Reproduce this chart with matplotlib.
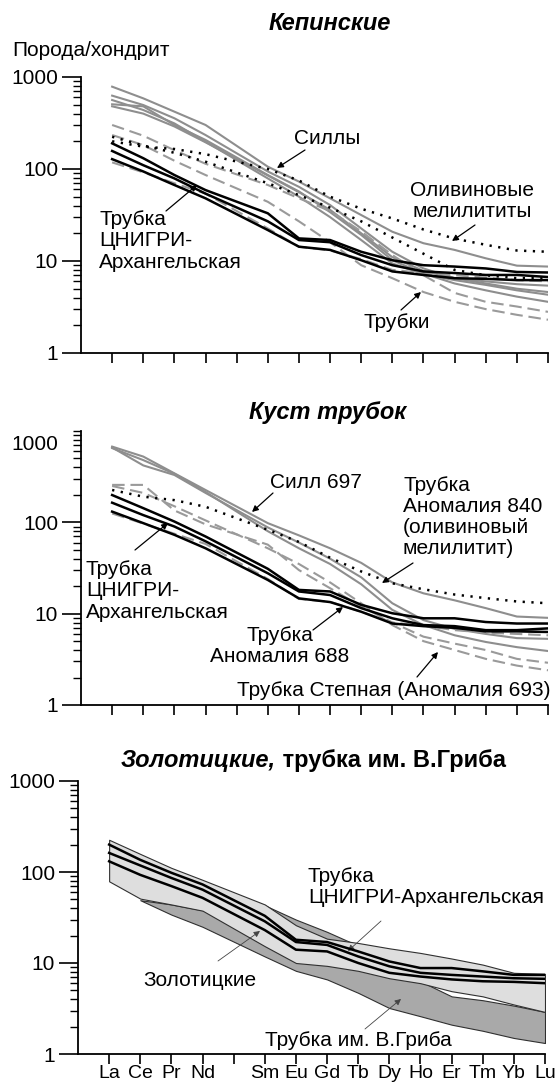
import matplotlib
matplotlib.use("Agg")
import matplotlib.pyplot as plt
import matplotlib.transforms as mtransforms
from matplotlib.ticker import NullFormatter, FixedLocator
import numpy as np

plt.rcParams['font.family'] = ['Liberation Sans', 'DejaVu Sans']

# ---------------- data ----------------
elements = ['La', 'Ce', 'Pr', 'Nd', 'Pm', 'Sm', 'Eu', 'Gd', 'Tb', 'Dy', 'Ho', 'Er', 'Tm', 'Yb', 'Lu']
tick_labels = ['La', 'Ce', 'Pr', 'Nd', '', 'Sm', 'Eu', 'Gd', 'Tb', 'Dy', 'Ho', 'Er', 'Tm', 'Yb', 'Lu']
measured = ['La', 'Ce', 'Pr', 'Nd', 'Sm', 'Eu', 'Gd', 'Tb', 'Dy', 'Ho', 'Er', 'Tm', 'Yb', 'Lu']
griba_elements = ['Ce', 'Pr', 'Nd', 'Sm', 'Eu', 'Gd', 'Tb', 'Dy', 'Ho', 'Er', 'Tm', 'Yb', 'Lu']

# Panel 1: Кепинские
kep_sill_1 = [785, 586, 420, 301, 106, 73, 48, 31.6, 20.8, 15.6, 13.2, 10.7, 8.9, 8.7]
kep_sill_2 = [627, 496, 356, 234, 94, 64, 40.6, 22.6, 12.6, 8.3, 6.5, 5.7, 5.0, 4.6]
kep_sill_3 = [505, 480, 301, 207, 86, 57, 34, 19.2, 10.2, 7.3, 5.7, 4.8, 4.1, 3.6]
kep_sill_4 = [562, 438, 313, 198, 79, 50, 30, 16.9, 9.4, 7.2, 6.2, 5.5, 4.8, 4.3]
kep_sill_5 = [480, 400, 290, 195, 85, 56, 36, 20, 11, 7.8, 6.5, 6.0, 5.6, 5.4]
kep_pipe_1 = [301, 230, 160, 114, 67, 48, 35, 21, 11.6, 7.0, 4.5, 3.6, 3.2, 2.8]
kep_pipe_2 = [234, 182, 123, 86, 44, 27, 16, 9.0, 6.5, 4.6, 3.6, 3.0, 2.6, 2.3]
kep_pipe_3 = [118, 92, 70, 54, 22.6, 14.3, 13, 10.5, 8.0, 7.4, 7.0, 6.6, 6.2, 6.0]
kep_mel_1 = [200, 175, 165, 145, 100, 75, 50, 37, 29, 22, 17.5, 15, 13, 12.6]
kep_mel_2 = [224, 180, 150, 120, 70, 52, 38, 27, 18, 12, 8.0, 7.0, 6.5, 6.5]
kep_cnigri_1 = [190, 131, 86, 59, 33, 17.6, 16.9, 12.6, 10.2, 9.0, 8.7, 8.3, 7.6, 7.5]
kep_cnigri_2 = [157, 110, 79, 54, 27, 16.9, 16, 11.6, 9.0, 7.7, 7.4, 7.05, 7.05, 6.7]
kep_cnigri_3 = [128, 94, 67, 48, 21.7, 14.3, 13.2, 10.2, 7.7, 7.05, 6.5, 6.4, 6.2, 6.2]

# Panel 2: Куст трубок
kust_sill_1 = [675, 525, 344, 226, 98, 72, 52, 36, 22, 16.7, 14, 11.5, 9.3, 9.0]
kust_sill_2 = [660, 420, 330, 210, 88, 60, 40, 25, 13, 8.5, 6.8, 6.0, 5.4, 5.3]
kust_sill_3 = [650, 480, 340, 215, 80, 52, 35, 21, 11, 7.5, 5.8, 4.9, 4.3, 3.9]
kust_mel = [226, 191, 175, 148, 83, 61, 41, 29, 21.5, 18.5, 16.2, 14.8, 13.6, 13]
kust_pipe_1 = [257, 257, 135, 95, 57, 30, 19, 12, 8.0, 5.6, 4.7, 4.0, 3.2, 2.9]
kust_pipe_2 = [250, 210, 150, 105, 52, 35, 22, 13, 7.5, 5.0, 4.0, 3.2, 2.7, 2.4]
kust_pipe_3 = [125, 97, 75, 58, 24, 14.5, 13.5, 10.5, 8.0, 7.4, 6.6, 6.2, 6.0, 5.8]
kust_cnigri_1 = [199, 143, 102, 70, 31, 18.2, 17.5, 12.5, 10.1, 8.9, 8.9, 8.1, 7.8, 7.8]
kust_cnigri_2 = [164, 120, 90, 62, 27.7, 17.5, 16, 11.5, 8.9, 7.5, 7.3, 6.6, 6.6, 6.9]
kust_cnigri_3 = [131, 98, 73, 52, 23.4, 14.7, 13.4, 10.5, 7.8, 7.3, 7.0, 6.4, 6.4, 6.3]

# Panel 3: Золотицкие, трубка им. В.Гриба
zol_upper = [226, 158, 111, 82, 44, 26, 18.5, 16.6, 14.5, 12.9, 11.2, 9.6, 7.8, 7.6]
zol_lower = [79, 51, 44, 37.6, 15.3, 10, 9.3, 8.2, 6.8, 6.0, 4.9, 4.3, 3.5, 2.9]
griba_upper = [49, 44, 38, 43, 30, 22, 15.5, 9.5, 6.3, 4.3, 3.9, 3.4, 2.9]
griba_lower = [49, 34, 25, 11.8, 8.2, 6.6, 4.7, 3.2, 2.6, 2.1, 1.8, 1.5, 1.32]
zol_cnigri_1 = [200, 136, 98, 73, 33, 18, 17, 13.4, 10.4, 8.8, 8.8, 8.1, 7.4, 7.4]
zol_cnigri_2 = [162, 118, 86, 64, 28.7, 17, 15.8, 11.8, 9.2, 7.8, 7.4, 7.1, 6.8, 6.7]
zol_cnigri_3 = [131, 93, 70, 52, 23, 14, 13.4, 10, 7.8, 7.1, 6.6, 6.3, 6.2, 6.0]

# ---------------- figure ----------------
W, H = 558, 1088
fig = plt.figure(figsize=(W / 100, H / 100), dpi=100)
T = mtransforms.Affine2D().scale(1 / W, -1 / H).translate(0, 1) + fig.transFigure

FS = 15
TFS = 17
GRAY = '#8e8e8e'
DGRAY = '#9a9a9a'


def make_axes(left, top, right, bottom, show_labels=False, shift_1000=False):
    ax = fig.add_axes([left / W, 1 - bottom / H, (right - left) / W, (bottom - top) / H])
    ax.set_yscale('log')
    ax.set_ylim(1, 1000)
    ax.set_xlim(0, len(elements))
    for s in ('top', 'right'):
        ax.spines[s].set_visible(False)
    for s in ('left', 'bottom'):
        ax.spines[s].set_linewidth(1.3)
    ax.set_xticks(np.arange(1, len(elements) + 1))
    ax.set_xticklabels(tick_labels if show_labels else [''] * len(elements), fontsize=14)
    ax.tick_params(axis='x', direction='out', length=7, width=1.2, pad=1.2)
    if shift_1000:
        ax.set_yticks([1, 10, 100])
        ax.set_yticklabels(['1', '10', '100'])
        minor = [m * 10 ** e for e in range(0, 3) for m in range(2, 10)] + [1000]
    else:
        ax.set_yticks([1, 10, 100, 1000])
        ax.set_yticklabels(['1', '10', '100', '1000'])
        minor = [m * 10 ** e for e in range(0, 3) for m in range(2, 10)]
    ax.yaxis.set_minor_locator(FixedLocator(minor))
    ax.yaxis.set_minor_formatter(NullFormatter())
    ax.tick_params(axis='y', which='major', direction='out', length=13.5, width=1.2, pad=3, labelsize=FS)
    ax.tick_params(axis='y', which='minor', direction='out', length=6, width=1.0)
    return ax


xm = [elements.index(e) + 1 for e in measured]
xg = [elements.index(e) + 1 for e in griba_elements]


def solid_gray(ax, v):
    ax.plot(xm, v, color=GRAY, lw=1.5, solid_joinstyle='round', zorder=2)


def dashed_gray(ax, v):
    ax.plot(xm, v, color=DGRAY, lw=1.5, linestyle=(0, (6, 2.8)), zorder=2)


def dotted_black(ax, v):
    ax.plot(xm, v, color='black', lw=1.8, linestyle=(0, (0.9, 2.6)), zorder=3)


def black(ax, v):
    ax.plot(xm, v, color='black', lw=1.8, solid_joinstyle='round', zorder=4)


def label(x, y, s, ha='center', size=FS, **kw):
    fig.text(x / W, 1 - y / H, s, ha=ha, va='center', fontsize=size, linespacing=1.15, **kw)


def arrow(ax, x0, y0, x1, y1, lw=0.9, color='black'):
    ax.annotate('', xy=(x1, y1), xytext=(x0, y0), xycoords=T, textcoords=T,
                annotation_clip=False,
                arrowprops=dict(arrowstyle='-|>', color=color, lw=lw, mutation_scale=9,
                                shrinkA=0, shrinkB=0))


# ---------------- panel 1 ----------------
ax1 = make_axes(81, 77, 548, 353)
for v in (kep_sill_1, kep_sill_2, kep_sill_3, kep_sill_4, kep_sill_5):
    solid_gray(ax1, v)
for v in (kep_pipe_1, kep_pipe_2, kep_pipe_3):
    dashed_gray(ax1, v)
for v in (kep_mel_1, kep_mel_2):
    dotted_black(ax1, v)
for v in (kep_cnigri_1, kep_cnigri_2, kep_cnigri_3):
    black(ax1, v)

label(330, 24, 'Кепинские', size=TFS, fontweight='bold', fontstyle='italic')
label(12, 51, 'Порода/хондрит', ha='left')
label(327, 139, 'Силлы')
label(472, 201, 'Оливиновые\nмелилититы', multialignment='center')
label(397, 322, 'Трубки')
label(99, 241, 'Трубка\nЦНИГРИ-\nАрхангельская', ha='left', multialignment='left')
arrow(ax1, 305, 150, 277, 168)
arrow(ax1, 475, 225, 452, 241)
arrow(ax1, 401, 310, 421, 292)
arrow(ax1, 166, 211, 197, 185)

# ---------------- panel 2 ----------------
ax2 = make_axes(81, 431, 548, 705, shift_1000=True)
for v in (kust_sill_1, kust_sill_2, kust_sill_3):
    solid_gray(ax2, v)
for v in (kust_pipe_1, kust_pipe_2, kust_pipe_3):
    dashed_gray(ax2, v)
dotted_black(ax2, kust_mel)
for v in (kust_cnigri_1, kust_cnigri_2, kust_cnigri_3):
    black(ax2, v)

label(58, 445, '1000', ha='right')
label(328, 412, 'Куст трубок', size=TFS, fontweight='bold', fontstyle='italic')
label(316, 482, 'Силл 697')
label(403, 517, 'Трубка\nАномалия 840\n(оливиновый\nмелилитит)', ha='left', multialignment='left')
label(86, 591, 'Трубка\nЦНИГРИ-\nАрхангельская', ha='left', multialignment='left')
label(280, 646, 'Трубка\nАномалия 688', multialignment='center')
label(394, 690, 'Трубка Степная (Аномалия 693)')
arrow(ax2, 273, 493, 252, 512)
arrow(ax2, 413, 563, 382, 583)
arrow(ax2, 135, 550, 168, 523)
arrow(ax2, 313, 630, 343, 607)
arrow(ax2, 417, 677, 438, 652)

# ---------------- panel 3 ----------------
ax3 = make_axes(78, 781, 545, 1054, show_labels=True)
ax3.fill_between(xg, griba_lower, griba_upper, facecolor='#a9a9a9', edgecolor='#303030',
                 lw=0.8, zorder=1)
ax3.fill_between(xm, zol_lower, zol_upper, facecolor='#dedede', edgecolor='#303030',
                 lw=0.8, zorder=2)
for v in (zol_cnigri_1, zol_cnigri_2, zol_cnigri_3):
    black(ax3, v)

label(308, 887, 'Трубка\nЦНИГРИ-Архангельская', ha='left', multialignment='left')
label(200, 981, 'Золотицкие')
label(358, 1041, 'Трубка им. В.Гриба')
arrow(ax3, 381, 921, 348, 951, lw=0.6, color='#444444')
arrow(ax3, 218, 961, 260, 931, lw=0.6, color='#444444')
arrow(ax3, 365, 1029, 401, 999, lw=0.6, color='#444444')

# two-style title
renderer = fig.canvas.get_renderer()
t1 = fig.text(0, 1 - 761 / H, 'Золотицкие,', fontsize=TFS, fontweight='bold', fontstyle='italic',
              ha='left', va='center')
t2 = fig.text(0, 1 - 761 / H, ' трубка им. В.Гриба', fontsize=TFS, fontweight='bold',
              ha='left', va='center')
w1 = t1.get_window_extent(renderer).width
w2 = t2.get_window_extent(renderer).width
x_start = 313 - (w1 + w2) / 2
t1.set_x(x_start / W)
t2.set_x((x_start + w1) / W)

fig.savefig('out.png', dpi=100)
